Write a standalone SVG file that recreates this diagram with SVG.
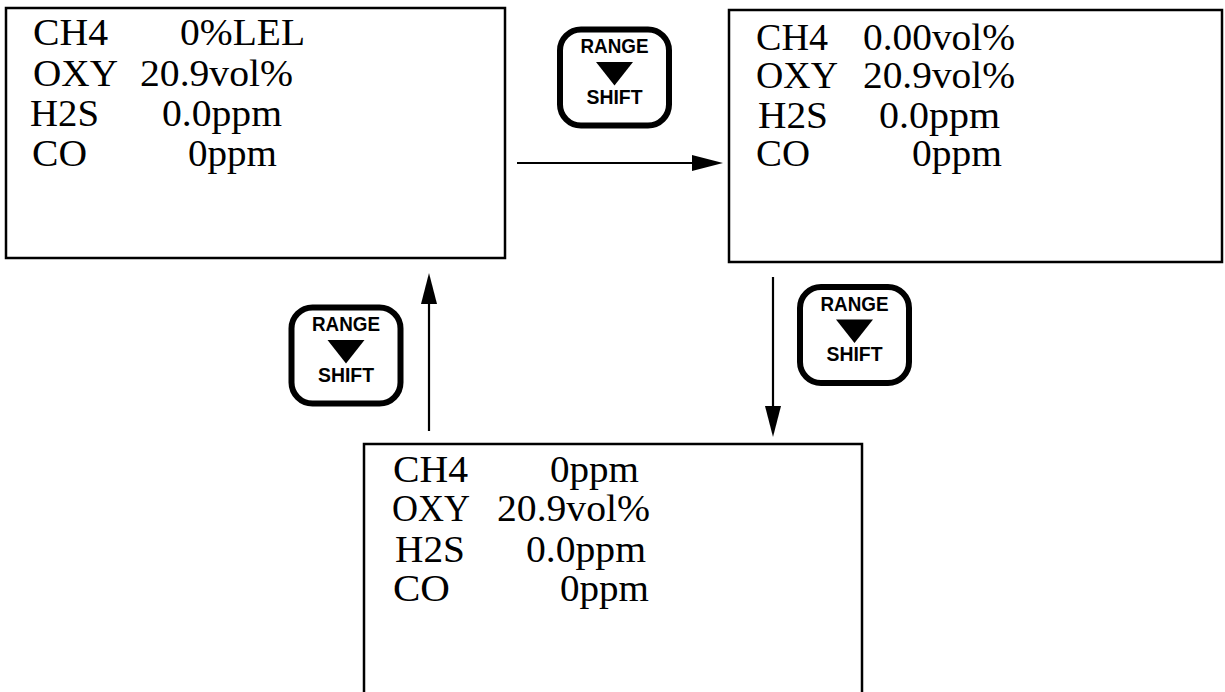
<svg xmlns="http://www.w3.org/2000/svg" width="1225" height="692" viewBox="0 0 1225 692">
<style>
.box{fill:#fff;stroke:#000;stroke-width:2.5}
.t{font-family:"Liberation Serif","Times New Roman",serif;font-size:37px;fill:#000}
.btn{fill:#fff;stroke:#000;stroke-width:6}
.bt{font-family:"Liberation Sans",Arial,sans-serif;font-weight:bold;font-size:19.5px;fill:#000;text-anchor:middle}
.conn{stroke:#000;stroke-width:2.2;fill:none}
</style>
<defs>
<marker id="ah" markerUnits="userSpaceOnUse" markerWidth="31" markerHeight="16" viewBox="0 0 31 16" refX="0" refY="8" orient="auto">
<path d="M0,0 L31,8 L0,16 z" fill="#000"/>
</marker>
<g id="key">
<rect class="btn" x="-54.5" y="-48" width="109" height="96" rx="21"/>
<text class="bt" x="0" y="-24.5" textLength="68" lengthAdjust="spacingAndGlyphs">RANGE</text>
<path d="M-18.5,-15.5 L18.5,-15.5 L0,8 z" fill="#000"/>
<text class="bt" x="0" y="26" textLength="56" lengthAdjust="spacingAndGlyphs">SHIFT</text>
</g>
</defs>
<rect width="1225" height="692" fill="#fff"/>
<g id="display-lel">
<rect class="box" x="6" y="8" width="499" height="250"/>
<text class="t" x="33" y="45" textLength="75" lengthAdjust="spacingAndGlyphs">CH4</text>
<text class="t" x="180" y="45" textLength="125" lengthAdjust="spacingAndGlyphs">0%LEL</text>
<text class="t" x="33" y="86" textLength="85" lengthAdjust="spacingAndGlyphs">OXY</text>
<text class="t" x="140" y="86" textLength="153" lengthAdjust="spacingAndGlyphs">20.9vol%</text>
<text class="t" x="30" y="126" textLength="69" lengthAdjust="spacingAndGlyphs">H2S</text>
<text class="t" x="162" y="126" textLength="120" lengthAdjust="spacingAndGlyphs">0.0ppm</text>
<text class="t" x="32" y="166" textLength="55" lengthAdjust="spacingAndGlyphs">CO</text>
<text class="t" x="188" y="166" textLength="89" lengthAdjust="spacingAndGlyphs">0ppm</text>
</g>
<g id="display-vol">
<rect class="box" x="729" y="10" width="493" height="252"/>
<text class="t" x="756" y="50" textLength="72" lengthAdjust="spacingAndGlyphs">CH4</text>
<text class="t" x="863" y="50" textLength="152" lengthAdjust="spacingAndGlyphs">0.00vol%</text>
<text class="t" x="756" y="88" textLength="82" lengthAdjust="spacingAndGlyphs">OXY</text>
<text class="t" x="863" y="88" textLength="152" lengthAdjust="spacingAndGlyphs">20.9vol%</text>
<text class="t" x="758" y="128" textLength="70" lengthAdjust="spacingAndGlyphs">H2S</text>
<text class="t" x="879" y="128" textLength="121" lengthAdjust="spacingAndGlyphs">0.0ppm</text>
<text class="t" x="756" y="166" textLength="54" lengthAdjust="spacingAndGlyphs">CO</text>
<text class="t" x="912" y="166" textLength="90" lengthAdjust="spacingAndGlyphs">0ppm</text>
</g>
<g id="display-ppm">
<rect class="box" x="364" y="444" width="498" height="260"/>
<text class="t" x="393" y="482" textLength="75" lengthAdjust="spacingAndGlyphs">CH4</text>
<text class="t" x="550" y="482" textLength="89" lengthAdjust="spacingAndGlyphs">0ppm</text>
<text class="t" x="392" y="521" textLength="78" lengthAdjust="spacingAndGlyphs">OXY</text>
<text class="t" x="497" y="521" textLength="153" lengthAdjust="spacingAndGlyphs">20.9vol%</text>
<text class="t" x="395" y="562" textLength="70" lengthAdjust="spacingAndGlyphs">H2S</text>
<text class="t" x="526" y="562" textLength="120" lengthAdjust="spacingAndGlyphs">0.0ppm</text>
<text class="t" x="393" y="601" textLength="57" lengthAdjust="spacingAndGlyphs">CO</text>
<text class="t" x="560" y="601" textLength="89" lengthAdjust="spacingAndGlyphs">0ppm</text>
</g>
<g id="connectors">
<line class="conn" x1="517" y1="163" x2="692" y2="163" marker-end="url(#ah)"/>
<line class="conn" x1="773" y1="277" x2="773" y2="406" marker-end="url(#ah)"/>
<line class="conn" x1="429" y1="431" x2="429" y2="304" marker-end="url(#ah)"/>
</g>
<g id="key-top"><use href="#key" x="614.5" y="77.5"/></g>
<g id="key-right"><use href="#key" x="854.5" y="335"/></g>
<g id="key-left"><use href="#key" x="346" y="355.5"/></g>
</svg>
